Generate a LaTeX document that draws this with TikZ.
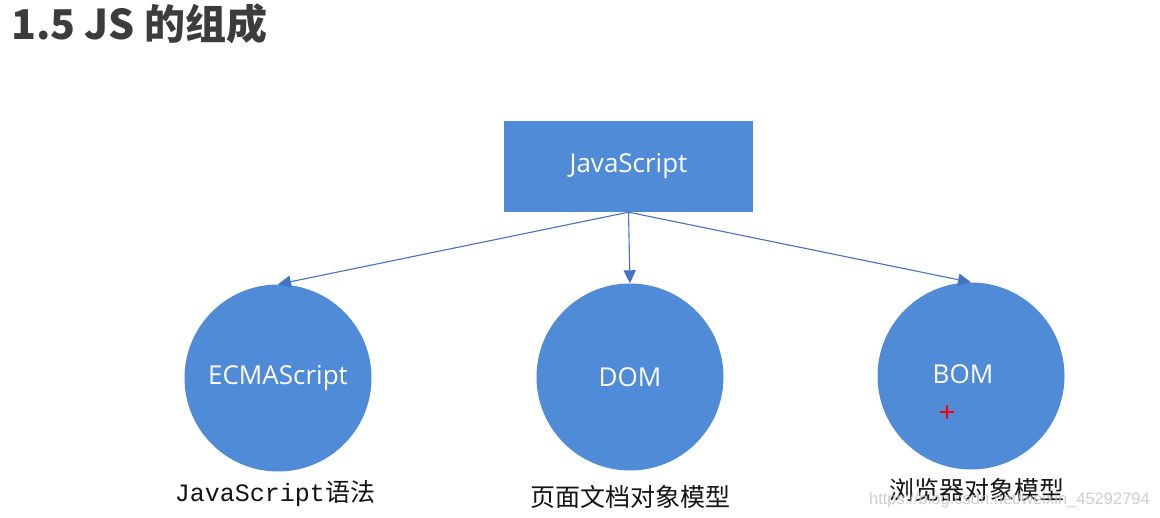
\documentclass[tikz,border=0pt]{standalone}
\usepackage{fontspec}
\setmainfont{Open Sans}
\newfontfamily\cjk{Noto Sans CJK SC}
\newfontfamily\mono{Liberation Mono}
\newfontfamily\wmfont{Liberation Sans}
\usetikzlibrary{arrows.meta}
\definecolor{jsblue}{RGB}{79,139,214}
\definecolor{linkblue}{RGB}{68,114,196}
\definecolor{titlegray}{RGB}{60,60,60}
\begin{document}
\begin{tikzpicture}[x=1pt,y=-1pt,
  txt/.style={text=white,font=\fontsize{26}{30}\selectfont},
  boxnode/.style={rectangle,fill=jsblue,minimum width=249pt,minimum height=91pt,inner sep=0pt,txt},
  circnode/.style={circle,fill=jsblue,minimum size=187pt,inner sep=0pt,txt},
  conn/.style={draw=linkblue,line width=1.1pt,-{Triangle[length=13pt,width=12pt]}},
  lab/.style={anchor=base,text=black!92,font=\cjk\fontsize{25}{30}\selectfont,inner sep=0pt},
  wm/.style={anchor=base east,text=gray!45,opacity=0.85,font=\wmfont\fontsize{16.5}{20}\selectfont,inner sep=0pt}
]
\useasboundingbox (0,0) rectangle (1160,518);
\fill[white] (0,0) rectangle (1160,518);

\node[anchor=base west,inner sep=0pt,text=titlegray,font=\cjk\bfseries\fontsize{41}{48}\selectfont] (title) at (11,40) {1.5 JS 的组成};

\node[boxnode] (js) at (628.5,166.5) {JavaScript};
\node[circnode] (ecma) at (278,378) {ECMAScript};
\node[circnode] (dom) at (630,377) {DOM};
\node[circnode] (bom) at (971,376) {};
\node[txt,inner sep=0pt] (bomtext) at (963,374) {BOM};

\draw[conn] (js.south) -- (ecma.north);
\draw[conn] (js.south) -- (dom.north);
\draw[conn] (js.south) -- (bom.north);

\draw[red,line width=2.2pt] (940,412) -- (954,412);
\draw[red,line width=2.2pt] (947,405) -- (947,419);

\node[lab] (ecmalab) at (275,502) {{\mono JavaScript}语法};
\node[lab] (domlab) at (630,507) {页面文档对象模型};
\node[lab] (bomlab) at (977,500) {浏览器对象模型};

\node[wm] (wmark) at (1150,504) {https://blog.csdn.net/weixin\_45292794};
\end{tikzpicture}
\end{document}
